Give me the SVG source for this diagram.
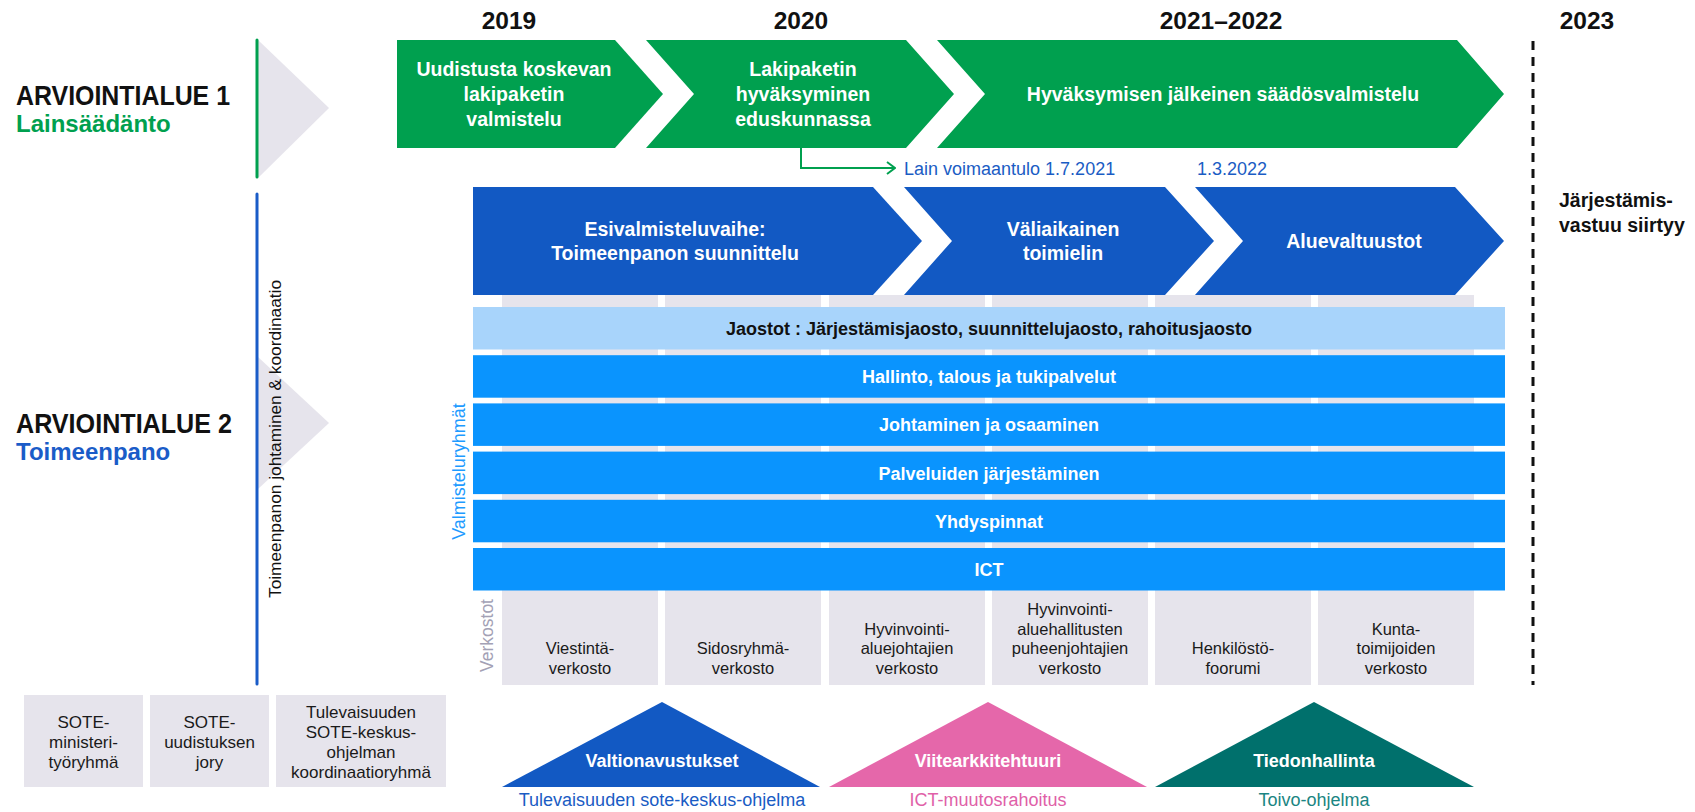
<svg xmlns="http://www.w3.org/2000/svg" width="1695" height="812" viewBox="0 0 1695 812">
  <defs>
    <style>
      text { font-family: "Liberation Sans", Arial, sans-serif; }
      .h { font-size: 28px; font-weight: bold; fill: #111; }
      .sub { font-size: 24px; font-weight: bold; }
      .year { font-size: 24.5px; font-weight: bold; fill: #111; text-anchor: middle; }
      .chev { font-size: 19.5px; font-weight: bold; fill: #fff; text-anchor: middle; }
      .bar { font-size: 18px; font-weight: bold; fill: #fff; text-anchor: middle; }
      .net { font-size: 16.5px; fill: #1a1a1a; text-anchor: middle; }
      .grp { font-size: 17px; fill: #1a1a1a; text-anchor: middle; }
      .tri { font-size: 18px; font-weight: bold; fill: #fff; text-anchor: middle; }
      .cap { font-size: 18px; text-anchor: middle; }
      .note { font-size: 18px; fill: #1a5cc4; }
      .grey { fill: #e6e4ec; }
      .green { fill: #00a04f; }
      .dblue { fill: #1259c3; }
      .bblue { fill: #0a94fe; }
    </style>
    <marker id="arrowOpen" viewBox="0 0 10 14" refX="9" refY="7" markerWidth="10" markerHeight="14" markerUnits="userSpaceOnUse" orient="auto">
      <polyline points="1,1 9,7 1,13" fill="none" stroke="#00a04f" stroke-width="2"/>
    </marker>
  </defs>

  <rect width="1695" height="812" fill="#fff"/>

  <!-- year headings -->
  <g id="years">
    <text class="year" x="509" y="29">2019</text>
    <text class="year" x="801" y="29">2020</text>
    <text class="year" x="1221" y="29">2021–2022</text>
    <text class="year" x="1587" y="29">2023</text>
  </g>

  <!-- area 1 heading -->
  <g id="area1-title">
    <text class="h" x="16" y="105" textLength="214" lengthAdjust="spacingAndGlyphs">ARVIOINTIALUE 1</text>
    <text class="sub" x="16" y="132" fill="#00a04f">Lainsäädänto</text>
    <polygon class="grey" points="258,40 329,108 258,178"/>
    <line x1="257" y1="40" x2="257" y2="177" stroke="#00a04f" stroke-width="3" stroke-linecap="round"/>
  </g>

  <!-- area 2 heading -->
  <g id="area2-title">
    <text class="h" x="16" y="433" textLength="216" lengthAdjust="spacingAndGlyphs">ARVIOINTIALUE 2</text>
    <text class="sub" x="16" y="460" fill="#1a5cc8">Toimeenpano</text>
    <polygon class="grey" points="258,357 329,423 258,489"/>
    <line x1="257" y1="194" x2="257" y2="684" stroke="#1a5cc8" stroke-width="3" stroke-linecap="round"/>
    <text x="0" y="0" transform="translate(281,598) rotate(-90)" font-size="17.3" fill="#111">Toimeenpanon johtaminen &amp; koordinaatio</text>
  </g>

  <!-- legislation phases -->
  <g id="phase-law-prep">
    <polygon class="green" points="397,40 615,40 663,94 615,148 397,148"/>
    <text class="chev" x="514" y="76">Uudistusta koskevan</text>
    <text class="chev" x="514" y="101">lakipaketin</text>
    <text class="chev" x="514" y="126">valmistelu</text>
  </g>
  <g id="phase-law-approval">
    <polygon class="green" points="646,40 906,40 954,94 906,148 646,148 694,94"/>
    <text class="chev" x="803" y="76">Lakipaketin</text>
    <text class="chev" x="803" y="101">hyväksyminen</text>
    <text class="chev" x="803" y="126">eduskunnassa</text>
  </g>
  <g id="phase-law-followup">
    <polygon class="green" points="937,40 1457,40 1504,94 1457,148 937,148 985,94"/>
    <text class="chev" x="1223" y="101">Hyväksymisen jälkeinen säädösvalmistelu</text>
  </g>

  <!-- dates -->
  <g id="dates">
    <text class="note" x="904" y="175">Lain voimaantulo 1.7.2021</text>
    <text class="note" x="1197" y="175">1.3.2022</text>
  </g>

  <!-- transfer of responsibility -->
  <g id="transfer">
    <line x1="1533" y1="41" x2="1533" y2="685" stroke="#111" stroke-width="3" stroke-dasharray="9,7"/>
    <text x="1559" y="207" font-size="19.5" font-weight="bold" fill="#111">Järjestämis-</text>
    <text x="1559" y="232" font-size="19.5" font-weight="bold" fill="#111">vastuu siirtyy</text>
  </g>

  <!-- network columns (behind the working-group bars) -->
  <g id="network-columns">
    <rect class="grey" x="502" y="295" width="156" height="390"/>
    <rect class="grey" x="665" y="295" width="156" height="390"/>
    <rect class="grey" x="829" y="295" width="156" height="390"/>
    <rect class="grey" x="992" y="295" width="156" height="390"/>
    <rect class="grey" x="1155" y="295" width="156" height="390"/>
    <rect class="grey" x="1318" y="295" width="156" height="390"/>
  </g>

  <!-- implementation phases -->
  <g id="phase-preparation">
    <polygon class="dblue" points="473,187 873,187 922,241 873,295 473,295"/>
    <text class="chev" x="675" y="236">Esivalmisteluvaihe:</text>
    <text class="chev" x="675" y="260">Toimeenpanon suunnittelu</text>
  </g>
  <g id="phase-interim">
    <polygon class="dblue" points="904,187 1165,187 1214,241 1165,295 904,295 952,241"/>
    <text class="chev" x="1063" y="236">Väliaikainen</text>
    <text class="chev" x="1063" y="260">toimielin</text>
  </g>
  <g id="phase-councils">
    <polygon class="dblue" points="1195,187 1455,187 1504,241 1455,295 1195,295 1243,241"/>
    <text class="chev" x="1354" y="248">Aluevaltuustot</text>
  </g>

  <!-- working groups -->
  <g id="wg-jaostot">
    <rect x="473" y="307" width="1032" height="42.5" fill="#a8d4fb"/>
    <text class="bar" x="989" y="335" fill="#111" style="fill:#111">Jaostot : Järjestämisjaosto, suunnittelujaosto, rahoitusjaosto</text>
  </g>
  <g id="wg-hallinto">
    <rect class="bblue" x="473" y="355.2" width="1032" height="42.5"/>
    <text class="bar" x="989" y="383">Hallinto, talous ja tukipalvelut</text>
  </g>
  <g id="wg-johtaminen">
    <rect class="bblue" x="473" y="403.4" width="1032" height="42.5"/>
    <text class="bar" x="989" y="431">Johtaminen ja osaaminen</text>
  </g>
  <g id="wg-palvelut">
    <rect class="bblue" x="473" y="451.6" width="1032" height="42.5"/>
    <text class="bar" x="989" y="479.5">Palveluiden järjestäminen</text>
  </g>
  <g id="wg-yhdyspinnat">
    <rect class="bblue" x="473" y="499.8" width="1032" height="42.5"/>
    <text class="bar" x="989" y="527.5">Yhdyspinnat</text>
  </g>
  <g id="wg-ict">
    <rect class="bblue" x="473" y="548" width="1032" height="42.5"/>
    <text class="bar" x="989" y="576">ICT</text>
  </g>

  <!-- side labels -->
  <g id="side-labels">
    <text x="0" y="0" transform="translate(465,471.5) rotate(-90)" font-size="18" fill="#1e9bff" text-anchor="middle">Valmisteluryhmät</text>
    <text x="0" y="0" transform="translate(493,635.5) rotate(-90)" font-size="17.5" fill="#a3a1b5" text-anchor="middle">Verkostot</text>
  </g>

  <!-- network labels -->
  <g id="net-viestinta">
    <text class="net" x="580" y="654">Viestintä-</text>
    <text class="net" x="580" y="674">verkosto</text>
  </g>
  <g id="net-sidosryhma">
    <text class="net" x="743" y="654">Sidosryhmä-</text>
    <text class="net" x="743" y="674">verkosto</text>
  </g>
  <g id="net-aluejohtajat">
    <text class="net" x="907" y="635">Hyvinvointi-</text>
    <text class="net" x="907" y="654">aluejohtajien</text>
    <text class="net" x="907" y="674">verkosto</text>
  </g>
  <g id="net-puheenjohtajat">
    <text class="net" x="1070" y="615">Hyvinvointi-</text>
    <text class="net" x="1070" y="635">aluehallitusten</text>
    <text class="net" x="1070" y="654">puheenjohtajien</text>
    <text class="net" x="1070" y="674">verkosto</text>
  </g>
  <g id="net-henkilosto">
    <text class="net" x="1233" y="654">Henkilöstö-</text>
    <text class="net" x="1233" y="674">foorumi</text>
  </g>
  <g id="net-kunta">
    <text class="net" x="1396" y="635">Kunta-</text>
    <text class="net" x="1396" y="654">toimijoiden</text>
    <text class="net" x="1396" y="674">verkosto</text>
  </g>

  <!-- steering groups -->
  <g id="grp-ministeri">
    <rect class="grey" x="24" y="695" width="119" height="92"/>
    <text class="grp" x="83.5" y="728">SOTE-</text>
    <text class="grp" x="83.5" y="748">ministeri-</text>
    <text class="grp" x="83.5" y="768">työryhmä</text>
  </g>
  <g id="grp-jory">
    <rect class="grey" x="150" y="695" width="119" height="92"/>
    <text class="grp" x="209.5" y="728">SOTE-</text>
    <text class="grp" x="209.5" y="748">uudistuksen</text>
    <text class="grp" x="209.5" y="768">jory</text>
  </g>
  <g id="grp-koordinaatio">
    <rect class="grey" x="276" y="695" width="170" height="92"/>
    <text class="grp" x="361" y="718">Tulevaisuuden</text>
    <text class="grp" x="361" y="738">SOTE-keskus-</text>
    <text class="grp" x="361" y="758">ohjelman</text>
    <text class="grp" x="361" y="778">koordinaatioryhmä</text>
  </g>

  <!-- funding programmes -->
  <g id="fund-valtionavustukset">
    <polygon class="dblue" points="502,787 662,702 820,787"/>
    <text class="tri" x="662" y="767">Valtionavustukset</text>
    <text class="cap" x="662" y="806" fill="#1a5cc4">Tulevaisuuden sote-keskus-ohjelma</text>
  </g>
  <g id="fund-viitearkkitehtuuri">
    <polygon points="829,787 988,702 1147,787" fill="#e567aa"/>
    <text class="tri" x="988" y="767">Viitearkkitehtuuri</text>
    <text class="cap" x="988" y="806" fill="#e060a8">ICT-muutosrahoitus</text>
  </g>
  <g id="fund-tiedonhallinta">
    <polygon points="1155,787 1314,702 1474,787" fill="#00706c"/>
    <text class="tri" x="1314" y="767">Tiedonhallinta</text>
    <text class="cap" x="1314" y="806" fill="#1a8582">Toivo-ohjelma</text>
  </g>

  <!-- connectors -->
  <g id="connectors">
    <polyline points="801,148 801,168 895,168" fill="none" stroke="#00a04f" stroke-width="2" marker-end="url(#arrowOpen)"/>
  </g>
</svg>
